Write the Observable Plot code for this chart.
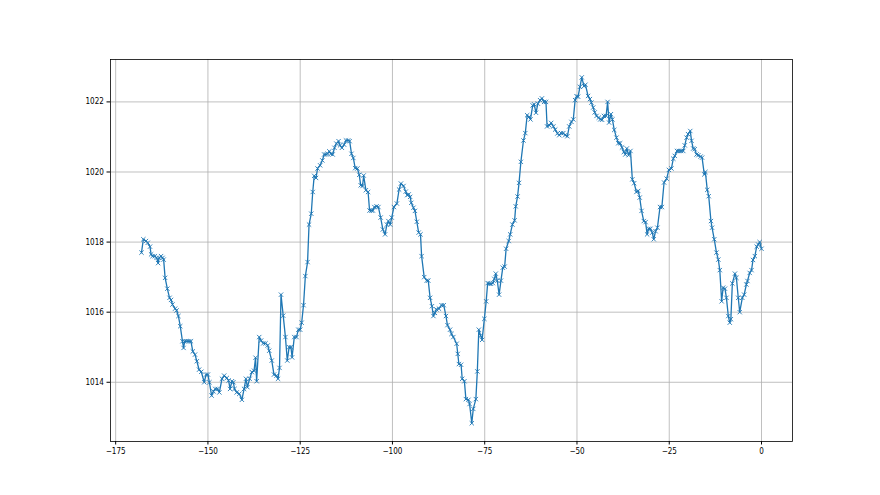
<!DOCTYPE html>
<html>
<head>
<meta charset="utf-8">
<script src="https://cdn.jsdelivr.net/npm/d3@7"></script>
<script src="https://cdn.jsdelivr.net/npm/@observablehq/plot@0.6"></script>
<style>
  html, body { margin: 0; padding: 0; background: #fff; }
  #chart svg { display: block; }
  #chart svg text { font-stretch: condensed; }
</style>
</head>
<body>
<div id="chart"></div>
<script>
// Hours relative to now (x) and pressure in hPa (y)
const hours = [
  -168.0,-167.5,-166.8,-166.3,-165.7,-165.4,-165.0,-164.4,-163.9,-163.5,-163.2,-162.7,-162.3,-162.0,
  -161.6,-161.0,-160.4,-160.0,-159.6,-158.9,-158.5,-158.0,-157.5,-156.9,-156.6,-156.3,-155.7,-155.1,
  -154.6,-154.1,-153.5,-153.0,-152.4,-151.8,-151.0,-150.5,-150.0,-149.6,-149.0,-148.5,-148.0,-147.4,
  -146.9,-146.2,-145.6,-144.9,-144.4,-144.0,-143.5,-143.1,-142.8,-142.2,-141.5,-140.8,-140.2,-139.7,
  -139.3,-138.7,-138.1,-137.5,-137.1,-136.8,-136.1,-135.6,-135.0,-134.4,-133.8,-133.4,-132.7,-132.1,
  -131.4,-131.0,-130.6,-130.2,-129.6,-129.0,-128.5,-128.0,-127.5,-127.2,-126.6,-126.0,-125.5,-125.0,
  -124.6,-124.1,-123.6,-123.0,-122.6,-122.0,-121.6,-121.2,-120.7,-120.3,-119.6,-119.0,-118.5,-118.0,
  -117.6,-117.1,-116.7,-116.2,-115.7,-115.2,-114.6,-114.2,-113.7,-113.1,-112.6,-112.0,-111.6,-111.1,
  -110.6,-110.1,-109.5,-109.0,-108.6,-108.1,-107.8,-107.2,-106.6,-106.2,-105.7,-105.3,-104.9,-104.3,
  -103.8,-103.2,-102.6,-102.0,-101.5,-101.1,-100.6,-100.2,-99.6,-98.8,-98.2,-97.7,-97.0,-96.4,
  -96.0,-95.6,-95.2,-94.9,-94.3,-93.9,-93.4,-92.9,-92.4,-92.1,-91.4,-90.7,-90.3,-89.8,
  -89.3,-88.9,-88.5,-88.1,-87.4,-86.7,-86.1,-85.5,-85.1,-84.4,-84.0,-83.5,-82.6,-82.3,
  -82.0,-81.4,-81.1,-80.5,-80.1,-79.4,-79.1,-78.5,-78.1,-77.4,-77.0,-76.6,-76.1,-75.7,
  -75.1,-74.6,-74.2,-73.7,-73.3,-72.8,-72.4,-72.0,-71.6,-71.1,-70.6,-70.1,-69.6,-69.2,
  -68.5,-68.1,-67.5,-66.9,-66.6,-66.1,-65.7,-65.2,-64.5,-64.0,-63.5,-63.0,-62.6,-62.0,
  -61.6,-61.1,-60.6,-60.0,-59.5,-58.9,-58.4,-58.1,-57.5,-57.0,-56.4,-55.9,-55.3,-54.8,
  -54.3,-53.7,-53.2,-52.6,-52.1,-51.5,-51.0,-50.5,-50.1,-49.7,-49.2,-48.7,-48.1,-47.7,
  -47.0,-46.5,-46.1,-45.6,-45.2,-44.7,-44.1,-43.7,-43.2,-42.7,-42.1,-41.7,-41.3,-40.8,
  -40.4,-39.9,-39.3,-38.8,-38.3,-37.8,-37.3,-36.9,-36.5,-36.0,-35.5,-35.0,-34.5,-33.9,
  -33.4,-33.0,-32.5,-31.9,-31.4,-31.0,-30.6,-30.1,-29.6,-29.2,-28.7,-28.2,-27.5,-27.0,
  -26.4,-25.7,-25.1,-24.4,-23.9,-23.5,-22.9,-22.4,-21.8,-21.2,-20.8,-20.3,-19.9,-19.3,
  -18.95,-18.5,-18.1,-17.6,-17.1,-16.5,-16.1,-15.5,-15.2,-14.7,-14.3,-13.7,-13.4,-12.8,
  -12.2,-11.7,-11.3,-10.8,-10.4,-9.9,-9.5,-9.0,-8.6,-8.3,-7.9,-7.2,-6.8,-6.3,
  -5.9,-5.2,-4.7,-4.1,-3.8,-3.2,-2.7,-2.3,-1.8,-1.3,-0.9,-0.5,0.0
];
const pressure = [
  1017.70,1018.08,1018.03,1017.98,1017.87,1017.65,1017.60,1017.60,1017.55,1017.40,1017.55,1017.60,1017.55,1017.50,
  1016.98,1016.67,1016.41,1016.35,1016.22,1016.10,1016.05,1015.89,1015.60,1015.17,1014.98,1015.17,1015.17,1015.17,
  1015.17,1014.88,1014.79,1014.60,1014.36,1014.30,1014.00,1014.22,1014.22,1014.00,1013.62,1013.74,1013.81,1013.81,
  1013.71,1014.10,1014.19,1014.12,1014.05,1013.81,1014.03,1014.00,1013.81,1013.71,1013.67,1013.50,1013.81,1014.10,
  1013.86,1014.10,1014.29,1014.33,1014.70,1014.03,1015.29,1015.19,1015.11,1015.11,1015.05,1014.90,1014.62,1014.22,
  1014.19,1014.10,1014.41,1016.50,1015.90,1015.29,1014.62,1015.00,1015.00,1014.71,1015.29,1015.29,1015.50,1015.50,
  1015.70,1016.20,1017.03,1017.43,1018.50,1018.81,1019.43,1019.89,1019.83,1020.10,1020.19,1020.33,1020.50,1020.50,
  1020.52,1020.59,1020.52,1020.50,1020.69,1020.81,1020.88,1020.76,1020.69,1020.78,1020.90,1020.90,1020.88,1020.52,
  1020.40,1020.11,1020.10,1019.92,1019.62,1019.60,1019.90,1019.48,1019.43,1018.90,1018.90,1018.90,1019.00,1019.02,
  1019.00,1018.70,1018.36,1018.22,1018.50,1018.60,1018.50,1018.70,1019.00,1019.10,1019.50,1019.67,1019.60,1019.44,
  1019.34,1019.36,1019.29,1019.12,1018.98,1018.89,1018.58,1018.27,1018.22,1017.60,1017.00,1016.90,1016.90,1016.41,
  1016.17,1015.89,1015.98,1016.08,1016.10,1016.20,1016.20,1015.89,1015.63,1015.50,1015.38,1015.29,1015.10,1014.81,
  1014.52,1014.50,1014.10,1014.03,1013.52,1013.50,1013.38,1012.83,1013.24,1013.52,1014.31,1015.50,1015.33,1015.21,
  1015.81,1016.31,1016.83,1016.81,1016.81,1016.83,1016.95,1017.10,1016.90,1016.50,1016.90,1017.27,1017.30,1017.81,
  1018.03,1018.22,1018.50,1018.62,1019.02,1019.30,1019.69,1020.29,1020.90,1021.11,1021.62,1021.57,1021.50,1021.90,
  1021.93,1021.69,1021.95,1022.05,1022.10,1022.00,1022.00,1021.30,1021.33,1021.40,1021.30,1021.21,1021.10,1021.05,
  1021.11,1021.11,1021.05,1021.02,1021.30,1021.43,1021.50,1022.05,1022.16,1022.15,1022.43,1022.70,1022.45,1022.49,
  1022.17,1022.08,1021.98,1021.84,1021.70,1021.60,1021.55,1021.50,1021.49,1021.60,1021.60,1022.00,1021.41,1021.65,
  1021.50,1021.20,1020.98,1020.82,1020.82,1020.70,1020.57,1020.50,1020.67,1020.48,1020.60,1019.79,1019.68,1019.43,
  1019.46,1019.27,1018.89,1018.60,1018.57,1018.22,1018.38,1018.38,1018.27,1018.08,1018.31,1018.41,1019.00,1019.00,
  1019.70,1019.81,1020.06,1020.10,1020.38,1020.46,1020.60,1020.60,1020.60,1020.60,1020.76,1020.98,1021.08,1021.17,
  1020.89,1020.67,1020.65,1020.50,1020.48,1020.44,1020.41,1019.93,1020.00,1019.49,1019.31,1018.60,1018.41,1018.08,
  1017.70,1017.50,1017.20,1016.31,1016.70,1016.67,1016.41,1015.89,1015.70,1015.80,1016.82,1017.10,1016.98,1016.41,
  1016.00,1016.41,1016.50,1016.79,1016.89,1017.12,1017.20,1017.49,1017.60,1017.87,1017.93,1018.00,1017.81
];
const xTicks = [-175, -150, -125, -100, -75, -50, -25, 0];
const yTicks = [1014, 1016, 1018, 1020, 1022];

const data = hours.map((h, i) => ({h, p: pressure[i]}));
const fmtX = d => d < 0 ? "\u2212" + (-d) : String(d);

const chart = Plot.plot({
  width: 880,
  height: 495,
  marginLeft: 110,
  marginRight: 88,
  marginTop: 59,
  marginBottom: 54,
  style: {fontFamily: "'DejaVu Sans Condensed', 'DejaVu Sans', sans-serif", fontSize: "8px", color: "#000", background: "#fff"},
  x: {domain: [-176.4, 8.4]},
  y: {domain: [1012.31, 1023.21]},
  marks: [
    Plot.gridX(xTicks, {stroke: "#b0b0b0", strokeOpacity: 1, strokeWidth: 0.8}),
    Plot.gridY(yTicks, {stroke: "#b0b0b0", strokeOpacity: 1, strokeWidth: 0.8}),
    Plot.line(data, {x: "h", y: "p", stroke: "#1f77b4", strokeWidth: 1.3}),
    Plot.dot(data, {x: "h", y: "p", symbol: "times", r: 2.1, stroke: "#1f77b4", strokeWidth: 0.9}),
    Plot.axisX(xTicks, {tickSize: 3.5, tickPadding: 3, tickFormat: fmtX, label: null, stroke: "#000"}),
    Plot.axisY(yTicks, {tickSize: 3.5, tickPadding: 3.2, tickFormat: d => String(d), label: null, stroke: "#000"}),
    Plot.frame({stroke: "#000", strokeWidth: 0.8})
  ]
});
document.getElementById("chart").appendChild(chart);
</script>
</body>
</html>
